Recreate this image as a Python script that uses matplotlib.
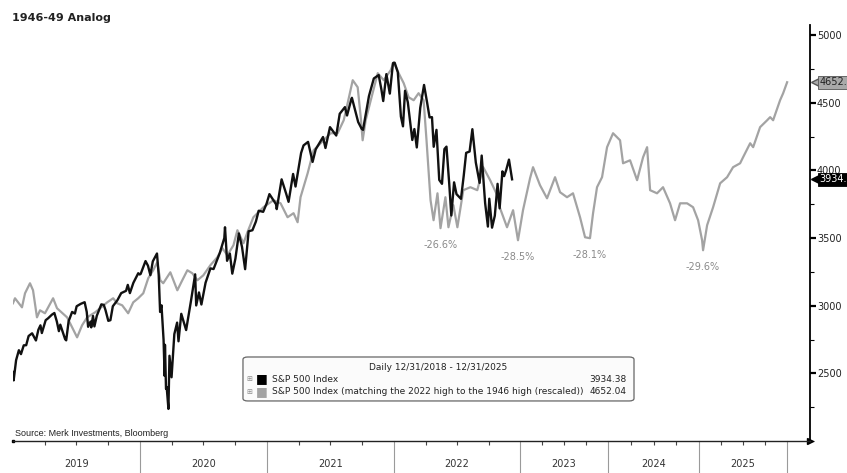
import numpy as np
import pandas as pd
import matplotlib.pyplot as plt
from matplotlib.patches import FancyBboxPatch
from matplotlib.ticker import MultipleLocator

# S&P 500 (negro), fechas y cierres
black_dates = [
    '2019-01-02', '2019-01-03', '2019-01-10', '2019-01-18', '2019-01-24', '2019-02-01', '2019-02-08',
    '2019-02-15', '2019-02-25', '2019-03-08', '2019-03-15', '2019-03-21', '2019-03-25', '2019-04-05',
    '2019-04-12', '2019-04-23', '2019-04-30', '2019-05-07', '2019-05-13', '2019-05-17', '2019-05-31',
    '2019-06-03', '2019-06-10', '2019-06-20', '2019-06-28', '2019-07-03', '2019-07-15', '2019-07-26',
    '2019-08-01', '2019-08-05', '2019-08-12', '2019-08-14', '2019-08-19', '2019-08-23', '2019-08-30',
    '2019-09-12', '2019-09-19', '2019-09-24', '2019-10-02', '2019-10-08', '2019-10-15', '2019-10-28',
    '2019-11-08', '2019-11-22', '2019-11-27', '2019-12-03', '2019-12-13', '2019-12-27', '2019-12-31',
    '2020-01-03', '2020-01-17', '2020-01-24', '2020-01-31', '2020-02-07', '2020-02-19', '2020-02-24',
    '2020-02-28', '2020-03-03', '2020-03-09', '2020-03-12', '2020-03-13', '2020-03-16', '2020-03-18',
    '2020-03-23', '2020-03-26', '2020-04-01', '2020-04-09', '2020-04-17', '2020-04-21', '2020-04-29',
    '2020-05-13', '2020-05-27', '2020-06-08', '2020-06-11', '2020-06-19', '2020-06-26', '2020-07-08',
    '2020-07-22', '2020-07-31', '2020-08-18', '2020-08-31', '2020-09-02', '2020-09-08', '2020-09-16',
    '2020-09-23', '2020-10-02', '2020-10-12', '2020-10-21', '2020-10-30', '2020-11-09', '2020-11-20',
    '2020-11-30', '2020-12-08', '2020-12-21', '2020-12-31',
    '2021-01-08', '2021-01-27', '2021-01-29', '2021-02-12', '2021-02-25', '2021-03-04', '2021-03-17',
    '2021-03-24', '2021-04-09', '2021-04-16', '2021-04-29', '2021-05-12', '2021-05-21', '2021-06-11',
    '2021-06-18', '2021-07-01', '2021-07-19', '2021-07-29', '2021-08-13', '2021-08-19', '2021-08-31',
    '2021-09-02', '2021-09-20', '2021-09-30', '2021-10-04', '2021-10-21', '2021-11-04', '2021-11-18',
    '2021-11-26', '2021-12-01', '2021-12-10', '2021-12-20', '2021-12-29',
    '2022-01-03', '2022-01-12', '2022-01-21', '2022-01-27', '2022-02-02', '2022-02-10', '2022-02-23',
    '2022-03-01', '2022-03-08', '2022-03-18', '2022-03-29', '2022-04-07', '2022-04-14', '2022-04-21',
    '2022-04-26', '2022-05-04', '2022-05-12', '2022-05-20', '2022-05-27', '2022-06-02', '2022-06-10',
    '2022-06-16', '2022-06-24', '2022-07-01', '2022-07-14', '2022-07-22', '2022-07-29', '2022-08-08',
    '2022-08-16', '2022-08-26', '2022-09-06', '2022-09-12', '2022-09-22', '2022-09-30', '2022-10-04',
    '2022-10-12', '2022-10-20', '2022-10-28', '2022-11-03', '2022-11-11', '2022-11-16', '2022-11-22',
    '2022-11-30', '2022-12-05', '2022-12-09',
]
black_vals = [
    2510, 2448, 2597, 2671, 2642, 2707, 2708, 2776, 2796, 2743, 2822, 2855, 2798, 2893,
    2907, 2934, 2946, 2884, 2812, 2860, 2752, 2744, 2886, 2954, 2942, 2996, 3014, 3026,
    2954, 2844, 2883, 2840, 2924, 2847, 2926, 3010, 3006, 2967, 2888, 2893, 2996, 3040,
    3093, 3110, 3154, 3093, 3169, 3240, 3231,
    3235, 3330, 3296, 3226, 3328, 3386, 3226, 2954, 3003, 2747, 2481, 2711, 2386, 2398,
    2237, 2630, 2471, 2790, 2875, 2737, 2940, 2820, 3036, 3232, 3002, 3098, 3009, 3170,
    3276, 3271, 3390, 3500, 3580, 3332, 3385, 3237, 3348, 3534, 3435, 3270, 3550, 3558,
    3622, 3702, 3694, 3756,
    3825, 3750, 3714, 3934, 3829, 3768, 3974, 3881, 4129, 4185, 4211, 4063, 4156, 4247,
    4166, 4320, 4258, 4419, 4468, 4406, 4523, 4537, 4358, 4308, 4300, 4550, 4680, 4705,
    4595, 4513, 4712, 4568, 4793,
    4796, 4726, 4398, 4326, 4589, 4504, 4225, 4306, 4170, 4463, 4632, 4500, 4392, 4394,
    4175, 4300, 3930, 3901, 4158, 4176, 3901, 3667, 3912, 3825, 3790, 3962, 4130, 4140,
    4305, 4058, 3908, 4110, 3758, 3585, 3791, 3577, 3665, 3901, 3720, 3993, 3958, 4003,
    4080, 3999, 3934.38,
]

# Analogia 1946-49 reescalada (gris), en anos decimales
gray_t = [
    2019.000, 2019.016, 2019.071, 2019.095, 2019.134, 2019.158, 2019.189, 2019.213, 2019.252, 2019.316,
    2019.347, 2019.426, 2019.450, 2019.505, 2019.544, 2019.584, 2019.647, 2019.686, 2019.742, 2019.789,
    2019.821, 2019.860, 2019.907, 2019.947, 2019.986, 2020.026, 2020.065, 2020.104, 2020.136, 2020.160,
    2020.183, 2020.239, 2020.294, 2020.333, 2020.373, 2020.412, 2020.452, 2020.499, 2020.554, 2020.609,
    2020.649, 2020.688, 2020.736, 2020.767, 2020.815, 2020.846, 2020.893, 2020.972, 2021.051, 2021.107,
    2021.162, 2021.209, 2021.241, 2021.264, 2021.320, 2021.367, 2021.422, 2021.501, 2021.556, 2021.604,
    2021.635, 2021.675, 2021.714, 2021.738, 2021.753, 2021.777, 2021.817, 2021.872, 2021.919, 2021.974,
    2021.998, 2022.037, 2022.077, 2022.116, 2022.156, 2022.195, 2022.235, 2022.258, 2022.290, 2022.314,
    2022.345, 2022.369, 2022.408, 2022.432, 2022.471, 2022.503, 2022.550, 2022.606, 2022.661, 2022.708,
    2022.763, 2022.819, 2022.842, 2022.897, 2022.945, 2022.984, 2023.034, 2023.114, 2023.148, 2023.227,
    2023.307, 2023.398, 2023.455, 2023.534, 2023.602, 2023.682, 2023.739, 2023.795, 2023.830, 2023.875,
    2023.932, 2023.989, 2024.055, 2024.132, 2024.165, 2024.242, 2024.319, 2024.385, 2024.429, 2024.462,
    2024.538, 2024.604, 2024.681, 2024.736, 2024.791, 2024.868, 2024.934, 2024.989, 2025.034, 2025.045,
    2025.091, 2025.159, 2025.239, 2025.318, 2025.386, 2025.466, 2025.500, 2025.580, 2025.614, 2025.693,
    2025.773, 2025.807, 2025.841, 2025.920, 2025.955, 2026.000,
]
gray_vals = [
    3018, 3055, 2988, 3092, 3166, 3114, 2914, 2966, 2944, 3055,
    2981, 2914, 2870, 2766, 2855, 2914, 2951, 2981, 3025, 3055,
    3018, 3003, 2944, 3025, 3055, 3092, 3203, 3262, 3321, 3188,
    3166, 3247, 3114, 3188, 3262, 3240, 3188, 3225, 3299, 3358,
    3425, 3373, 3447, 3558, 3462, 3543, 3654, 3728, 3780, 3757,
    3654, 3684, 3617, 3802, 3979, 4149, 4201, 4275, 4275, 4371,
    4497, 4667, 4615, 4394, 4223, 4371, 4519, 4719, 4667, 4741,
    4800, 4719, 4645, 4541, 4519, 4571, 4519, 4223, 3780, 3632,
    3831, 3573, 3802, 3580, 3743, 3580, 3854, 3876, 3854, 4024,
    3928, 3817, 3720, 3580, 3706, 3484, 3706, 3942, 4024, 3891,
    3794, 3950, 3839, 3802, 3831, 3654, 3506, 3499, 3684, 3876,
    3950, 4172, 4275, 4223, 4053, 4075, 3928, 4098, 4172, 3854,
    3831, 3876, 3757, 3632, 3757, 3757, 3728, 3632, 3484, 3410,
    3595, 3728, 3905, 3950, 4024, 4053, 4098, 4201, 4172, 4320,
    4371, 4394, 4371, 4519, 4571, 4652.04,
]

# Caidas marcadas en la serie gris
dd_labels = ['-26.6%', '-28.5%', '-28.1%', '-29.6%']
dd_t = [2022.369, 2022.984, 2023.795, 2025.045]
dd_vals = [3573, 3484, 3499, 3410]

years = [2019, 2020, 2021, 2022, 2023, 2024, 2025]

# El eje x comprime 2023-2025 (ancho relativo de cada ano)
year_widths = [1.0, 1.0, 1.0, 0.992, 0.693, 0.717, 0.693]
year_starts = np.arange(2019, 2027)
edge_pos = np.concatenate([[0], np.cumsum(year_widths)])


def to_x(t):
    return np.interp(t, year_starts, edge_pos)


def dec_year(dates):
    d = pd.to_datetime(dates)
    days = np.where(d.is_leap_year, 366, 365)
    return d.year + (d.dayofyear - 1) / days


black_x = to_x(dec_year(black_dates))
gray_x = to_x(np.array(gray_t))

fig = plt.figure(figsize=(8.47, 4.73), dpi=100)
ax = fig.add_axes([0.0153, 0.0677, 0.9410, 0.8794])

ax.plot(gray_x, gray_vals, color='#a3a3a3', lw=1.6, zorder=2)
ax.plot(black_x, black_vals, color='#111111', lw=1.7, zorder=3)

ax.set_xlim(0, edge_pos[-1] + 0.18)
ax.set_ylim(2000, 5075)

# Eje y a la derecha
for s in ['left', 'top']:
    ax.spines[s].set_visible(False)
ax.spines['right'].set_linewidth(1.3)
ax.spines['bottom'].set_color('#222222')
ax.spines['bottom'].set_linewidth(1.0)
ax.yaxis.tick_right()
ax.set_yticks([2500, 3000, 3500, 4000, 4500, 5000])
ax.yaxis.set_minor_locator(MultipleLocator(250))
ax.tick_params(axis='y', which='major', length=4, width=1.6, labelsize=7, pad=1, labelcolor='#222222')
ax.tick_params(axis='y', which='minor', length=3, width=0.8)

# Eje x: marcas trimestrales, separadores y etiquetas de ano
quarters = [y + q / 4 for y in years for q in (1, 2, 3)]
ax.set_xticks(to_x(np.array(quarters)))
ax.set_xticklabels([])
ax.tick_params(axis='x', length=3, width=0.8, color='#444444')
xt = ax.get_xaxis_transform()
for y in years:
    ax.plot([to_x(y + 1)] * 2, [0, -0.08], transform=xt, color='#9a9a9a', lw=0.8, clip_on=False)
    ax.text(to_x(y + 0.5), -0.055, str(y), transform=xt, ha='center', va='center',
            fontsize=7, color='#333333')
ax.plot(1, 0, '>', transform=ax.transAxes, color='black', ms=4, clip_on=False)
ax.plot(0, 0, 's', transform=ax.transAxes, color='black', ms=2, clip_on=False)

# Etiquetas de caidas
for lab, t, v in zip(dd_labels, dd_t, dd_vals):
    ax.annotate(lab, (to_x(t), v), xytext=(0, -12), textcoords='offset points',
                ha='center', va='center', fontsize=7, color='#8a8a8a')

# Ultimos valores a la derecha del eje
yt = ax.get_yaxis_transform()
ax.plot(1.008, 4652.04, '<', transform=yt, color='#a9a9a9', mec='#555555', ms=7, clip_on=False, zorder=5)
ax.text(1.012, 4652.04, '4652.04', transform=yt, ha='left', va='center', fontsize=7, color='#222222',
        bbox=dict(boxstyle='square,pad=0.15', fc='#a9a9a9', ec='#555555', lw=0.6), clip_on=False, zorder=6)
ax.plot(1.008, 3934.38, '<', transform=yt, color='black', ms=7, clip_on=False, zorder=5)
ax.text(1.012, 3934.38, '3934.38', transform=yt, ha='left', va='center', fontsize=7, color='white',
        bbox=dict(boxstyle='square,pad=0.15', fc='black', ec='black', lw=0.6), clip_on=False, zorder=6)

# Leyenda estilo Bloomberg
box = FancyBboxPatch((0.2886, 0.0962), 0.4906, 0.1057, boxstyle='round,pad=0,rounding_size=0.006',
                     transform=ax.transAxes, fc='#fbfbfb', ec='#666666', lw=0.9, zorder=7)
ax.add_patch(box)
ax.text(0.534, 0.1755, 'Daily 12/31/2018 - 12/31/2025', transform=ax.transAxes, ha='center',
        va='center', fontsize=6.5, color='#222222', zorder=8)
rows = [('S&P 500 Index', 'black', '3934.38', 0.149),
        ('S&P 500 Index (matching the 2022 high to the 1946 high (rescaled))', '#a3a3a3', '4652.04', 0.118)]
for name, col, val, yy in rows:
    ax.text(0.297, yy, '⊞', transform=ax.transAxes, ha='center', va='center', fontsize=5,
            color='#888888', zorder=8)
    ax.text(0.312, yy, '■', transform=ax.transAxes, ha='center', va='center', fontsize=9,
            color=col, zorder=8)
    ax.text(0.325, yy, name, transform=ax.transAxes, ha='left', va='center', fontsize=6.5,
            color='#222222', zorder=8)
    ax.text(0.770, yy, val, transform=ax.transAxes, ha='right', va='center', fontsize=6.5,
            color='#222222', zorder=8)

# Titulo y fuente
fig.text(0.014, 0.972, '1946-49 Analog', ha='left', va='top', fontsize=8, fontweight='bold', color='#222222')
ax.text(0.003, 0.008, 'Source: Merk Investments, Bloomberg', transform=ax.transAxes, ha='left',
        va='bottom', fontsize=6.5, family=['Liberation Sans Narrow', 'Liberation Sans'], color='#222222')

fig.savefig('out.png', dpi=100)
